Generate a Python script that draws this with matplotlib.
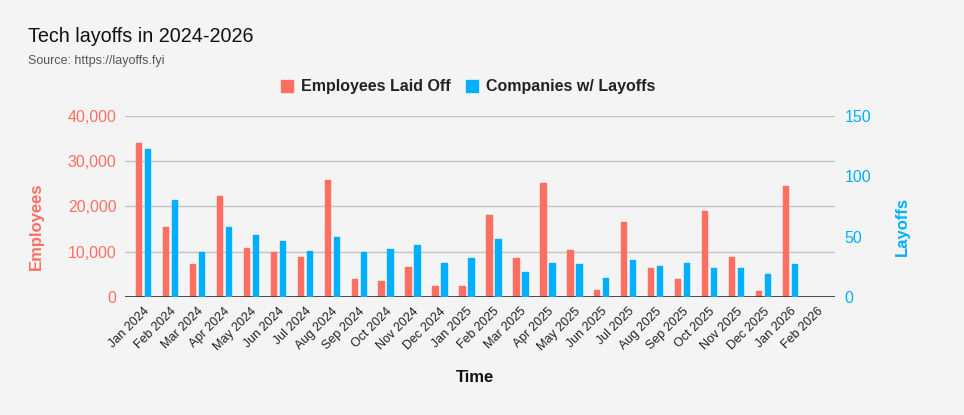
import matplotlib.pyplot as plt
import numpy as np
from matplotlib.ticker import FuncFormatter

plt.rcParams["font.family"] = ["Liberation Sans", "DejaVu Sans"]

months = ["Jan 2024", "Feb 2024", "Mar 2024", "Apr 2024", "May 2024", "Jun 2024",
          "Jul 2024", "Aug 2024", "Sep 2024", "Oct 2024", "Nov 2024", "Dec 2024",
          "Jan 2025", "Feb 2025", "Mar 2025", "Apr 2025", "May 2025", "Jun 2025",
          "Jul 2025", "Aug 2025", "Sep 2025", "Oct 2025", "Nov 2025", "Dec 2025",
          "Jan 2026", "Feb 2026"]
employees = [34000, 15500, 7400, 22400, 10900, 10000, 8900, 25900, 4000, 3600, 6700, 2500,
             2500, 18200, 8700, 25300, 10400, 1600, 16600, 6500, 4000, 19100, 8900, 1400,
             24600, None]
companies = [123, 80, 37, 58, 51, 46, 38, 50, 37, 40, 43, 28,
             32, 48, 21, 28, 27, 16, 31, 26, 28, 24, 24, 19,
             27, None]

RED = "#ff6f61"
BLUE = "#00b0ff"
BG = "#f4f4f4"

emp = np.array(employees, dtype=float)
comp = np.array(companies, dtype=float)
x = np.arange(len(months))

W, H = 964, 415
fig = plt.figure(figsize=(W / 100, H / 100), dpi=100, facecolor=BG)
ax = fig.add_axes([125 / W, (H - 297) / H, 710 / W, 181 / H], facecolor=BG)
ax2 = ax.twinx()

# thin same-colour edge with round joins gives the slightly rounded bar tops
bw = 0.2
ax.bar(x - 0.167, emp, bw, color=RED, edgecolor=RED, linewidth=1.0,
       joinstyle="round", zorder=3, label="Employees Laid Off")
ax2.bar(x + 0.167, comp, bw, color=BLUE, edgecolor=BLUE, linewidth=1.0,
        joinstyle="round", zorder=3, label="Companies w/ Layoffs")

ax.set_xlim(-0.67, len(months) - 0.33)
ax.set_ylim(0, 40000)
ax2.set_ylim(0, 150)
ax.set_yticks(np.arange(0, 40001, 10000))
ax2.set_yticks([0, 50, 100, 150])
ax.yaxis.set_major_formatter(FuncFormatter(lambda v, p: f"{int(v):,}"))
ax.grid(axis="y", color="#c4c4c4", lw=1, zorder=0)
ax.set_axisbelow(True)
ax.axhline(0, color="#333333", lw=1.2, zorder=4)

for a in (ax, ax2):
    for s in a.spines.values():
        s.set_visible(False)
ax.tick_params(axis="y", length=0, pad=6, labelsize=11.5, labelcolor=RED)
ax2.tick_params(axis="y", length=0, pad=7, labelsize=11.5, labelcolor=BLUE)
ax.set_xticks(x)
ax.set_xticklabels(months, rotation=45, ha="right", rotation_mode="anchor",
                   fontsize=9, color="#222222")
ax.tick_params(axis="x", length=0, pad=6)

fig.text(36 / W, 1 - 226 / H, "Employees", rotation=90, color=RED, fontsize=12,
         fontweight="bold", ha="center", va="center")
fig.text(902 / W, 1 - 226 / H, "Layoffs", rotation=90, color=BLUE, fontsize=12,
         fontweight="bold", ha="center", va="center")
fig.text(475 / W, 1 - 377 / H, "Time", fontsize=12, fontweight="bold",
         ha="center", va="center", color="#111111")

fig.text(28 / W, 1 - 42 / H, "Tech layoffs in 2024-2026", fontsize=14.2,
         ha="left", va="baseline", color="#111111")
fig.text(28 / W, 1 - 64 / H, "Source: https://layoffs.fyi", fontsize=9,
         ha="left", va="baseline", color="#555555")

h1, l1 = ax.get_legend_handles_labels()
h2, l2 = ax2.get_legend_handles_labels()
leg = fig.legend(h1 + h2, l1 + l2, loc="center", bbox_to_anchor=(468 / W, 1 - 87 / H),
                 ncol=2, frameon=False, handlelength=0.75, handleheight=0.75,
                 handletextpad=0.5, columnspacing=1.0,
                 prop={"size": 11.5, "weight": "bold"})
for t in leg.get_texts():
    t.set_color("#222222")

fig.savefig("out.png", dpi=100, facecolor=BG)
